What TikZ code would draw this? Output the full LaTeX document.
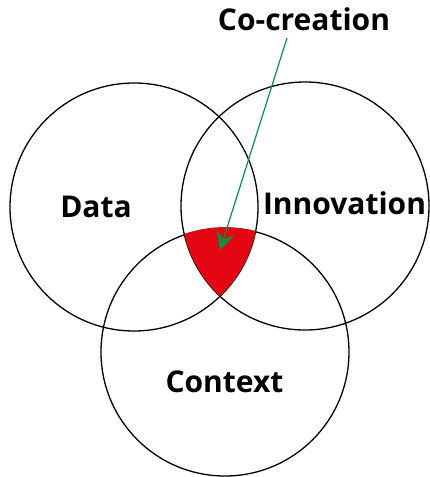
\documentclass[tikz,border=0pt]{standalone}
\usepackage{fontspec}
\setmainfont{Open Sans}
\usetikzlibrary{arrows.meta}
\definecolor{cored}{RGB}{227,6,19}
\definecolor{cogreen}{RGB}{0,150,64}
\tikzset{
  ring/.style={circle, draw=black, line width=1.3pt, minimum size=248pt, inner sep=0pt},
  lbl/.style={font=\fontsize{30}{34}\selectfont\bfseries, inner sep=0pt, anchor=base},
  pointer/.style={draw=cogreen, line width=1.2pt, -{Stealth[length=18pt,width=18pt,inset=7pt]}}
}
\begin{document}
\begin{tikzpicture}[x=1pt,y=-1pt]
\useasboundingbox (0,0) rectangle (430,477);
\node[ring] (data) at (134,207) {};
\node[ring] (innov) at (305,206) {};
\node[ring] (ctx) at (225,352) {};
\begin{scope}
  \clip (134,207) circle (124pt);
  \clip (305,206) circle (124pt);
  \fill[cored] (225,352) circle (124.7pt);
\end{scope}
\node[lbl] (tdata) at (96,217) {Data};
\node[lbl] (tinnov) at (344.5,214) {Innovation};
\node[lbl] (tctx) at (224.5,392) {Context};
\node[lbl] (tco) at (304,30) {Co-creation};
\coordinate (start) at (287,38);
\coordinate (tip) at (220,250);
\draw[pointer] (start) -- (tip);
\end{tikzpicture}
\end{document}
